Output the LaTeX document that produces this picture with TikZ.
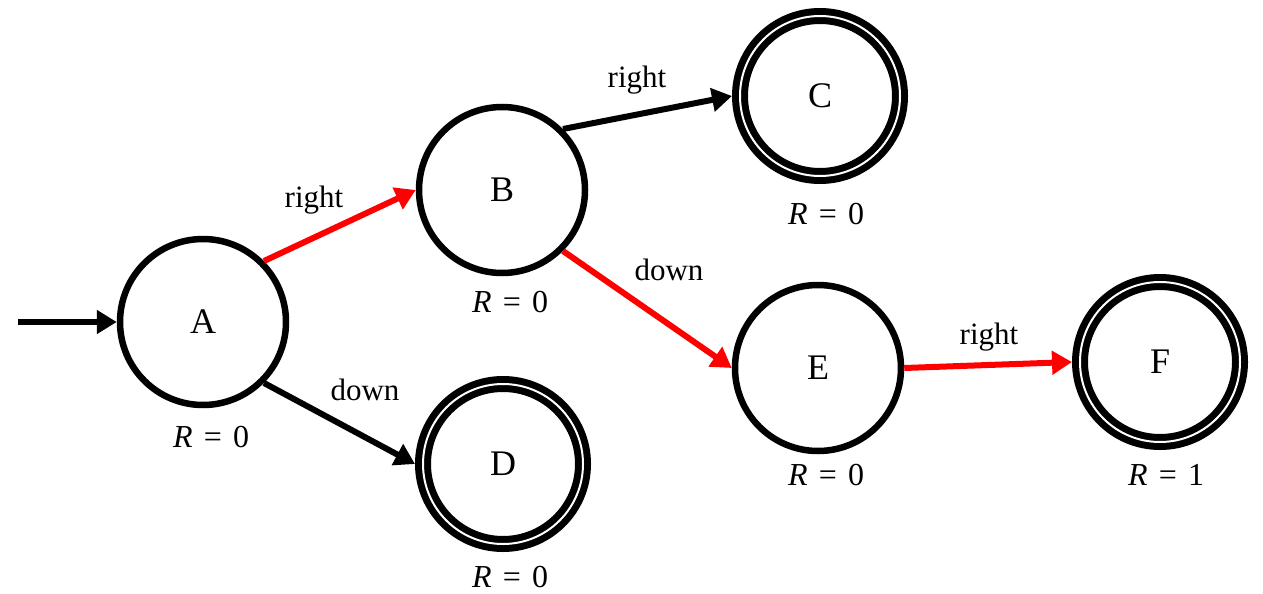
\documentclass[tikz,border=0pt]{standalone}
\usepackage{fontspec}
\setmainfont{Liberation Serif}
\usetikzlibrary{arrows.meta}
\newcommand{\rew}[1]{\textit{R}\hspace{0.35em}=\hspace{0.35em}#1}
\begin{document}
\begin{tikzpicture}[x=1pt,y=-1pt,
  state/.style={circle,draw=black,line width=6.5pt,minimum size=166pt,inner sep=0pt,outer sep=3.25pt,font=\fontsize{36}{40}\selectfont},
  accept/.style={circle,draw=black,line width=7pt,double=white,double distance=2pt,minimum size=160pt,inner sep=0pt,outer sep=8pt,font=\fontsize{36}{40}\selectfont},
  edge/.style={line width=6pt,draw=black,-{Triangle[length=20pt,width=23pt]}},
  redge/.style={edge,draw=red,-{Triangle[length=20pt,width=23pt,fill=red]}},
  lbl/.style={font=\fontsize{31}{33}\selectfont,inner sep=0pt},
  rlbl/.style={font=\fontsize{32}{34}\selectfont,inner sep=0pt}]
\useasboundingbox (0,0) rectangle (1263,594);
\node[state] (A) at (203,322) {A};
\node[state] (B) at (502,190) {B};
\node[accept] (C) at (820,96) {C};
\node[accept] (D) at (503,464) {D};
\node[state] (E) at (818,368) {E};
\node[accept] (F) at (1160,362) {F};
\coordinate (s) at (18,322);
\draw[edge] (s) -- (A.west);
\draw[redge] (A.north east) -- (B.west);
\draw[edge] (A.south east) -- (D.west);
\draw[edge] (B.north east) -- (C.west);
\draw[redge] (B.south east) -- (E.west);
\draw[redge] (E.east) -- (F.west);
\node[lbl] (l1) at (314,200) {right};
\node[lbl] (l2) at (365,390) {down};
\node[lbl] (l3) at (637,80) {right};
\node[lbl] (l4) at (669,270) {down};
\node[lbl] (l5) at (989,337) {right};
\node[rlbl] (rA) at (211,437) {\rew{0}};
\node[rlbl] (rB) at (510,302) {\rew{0}};
\node[rlbl] (rC) at (826,214) {\rew{0}};
\node[rlbl] (rD) at (510,577) {\rew{0}};
\node[rlbl] (rE) at (826,475) {\rew{0}};
\node[rlbl] (rF) at (1166,475) {\rew{1}};
\end{tikzpicture}
\end{document}
